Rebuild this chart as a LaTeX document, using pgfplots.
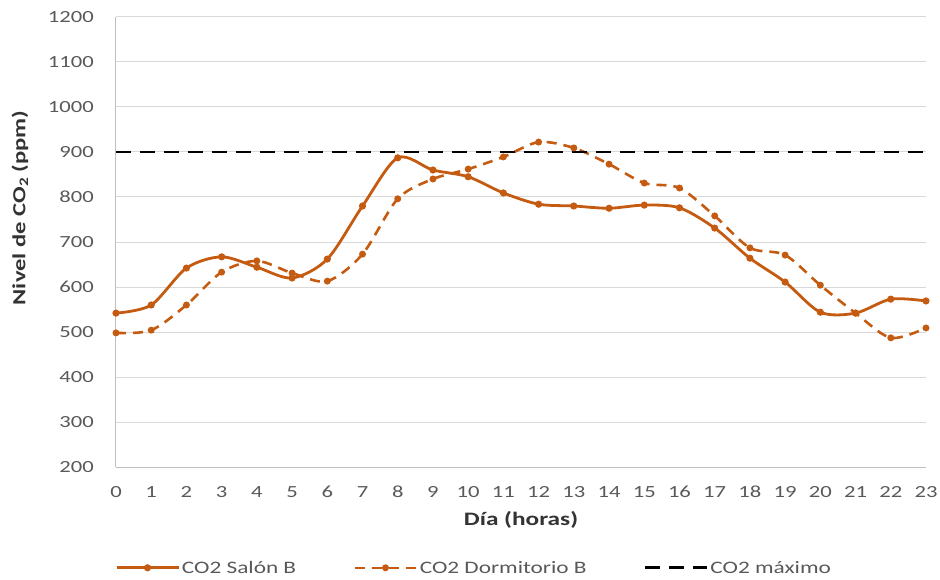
\documentclass[border=0pt]{standalone}
\usepackage{fontspec}
\setmainfont{Carlito}[FakeStretch=1.33]
\usepackage{pgfplots}
\pgfplotsset{compat=1.18}
\definecolor{orng}{HTML}{C55A11}
\definecolor{tickc}{HTML}{595959}
\definecolor{grd}{HTML}{D9D9D9}
\definecolor{axl}{HTML}{BFBFBF}
\begin{document}
\begin{tikzpicture}
\path[use as bounding box] (-116pt,-112pt) rectangle (824pt,467pt);
\begin{axis}[
  at={(0pt,0pt)}, anchor=south west,
  scale only axis, width=810pt, height=450pt,
  xmin=0, xmax=23, ymin=200, ymax=1200,
  xtick={0,1,...,23}, ytick={200,300,...,1200},
  axis lines*=left,
  axis line style={draw=axl, line width=1pt},
  ymajorgrids, grid style={draw=grd, line width=1pt},
  tick style={draw=none},
  clip=false,
  /pgf/number format/assume math mode=true,
  /pgf/number format/set thousands separator={},
  ticklabel style={font=\fontsize{17}{20}\selectfont, text=tickc},
  xticklabel style={anchor=north, inner sep=0pt, yshift=-19pt},
  yticklabel style={anchor=east, inner sep=0pt, xshift=-22pt},
  xlabel={\textbf{Día (horas)}},
  xlabel style={font=\fontsize{19}{22}\selectfont, text=black!80, at={(axis description cs:0.5,-0.118)}, anchor=center},
  ylabel={\textbf{Nivel de CO\textsubscript{2} (ppm)}},
  ylabel style={font=\fontsize{18.5}{22}\selectfont, text=black!80, at={(axis description cs:-0.1185,0.576)}, anchor=center, rotate=0},
  legend columns=3,
  legend style={draw=none, fill=none, at={(axis description cs:0.442,-0.224)}, anchor=center,
    font=\fontsize{17.5}{20}\selectfont, text=tickc,
    /tikz/every even column/.append style={column sep=55pt}},
  legend image code/.code={\draw[mark repeat=2, mark phase=2, #1] plot coordinates {(0pt,0pt) (31pt,0pt) (62pt,0pt)};},
]
\addplot[orng, line width=2.8pt, smooth, tension=0.5, mark=*, mark size=2.1pt, mark options={solid}] coordinates {
(0,542) (1,560) (2,642) (3,667) (4,644) (5,620) (6,662) (7,780) (8,887) (9,860) (10,845) (11,809)
(12,784) (13,780) (14,775) (15,782) (16,776) (17,731) (18,664) (19,611) (20,544) (21,542) (22,573) (23,569)};
\addlegendentry{CO2 Salón B}
\addplot[orng, line width=2.6pt, smooth, tension=0.5, dash pattern=on 10pt off 7pt, mark=*, mark size=2.1pt, mark options={solid}] coordinates {
(0,498) (1,504) (2,560) (3,633) (4,658) (5,631) (6,613) (7,673) (8,796) (9,840) (10,862) (11,889)
(12,922) (13,909) (14,873) (15,831) (16,820) (17,758) (18,687) (19,671) (20,604) (21,542) (22,487) (23,509)};
\addlegendentry{CO2 Dormitorio B}
\addplot[black, line width=2.8pt, dash pattern=on 15pt off 9pt] coordinates {(0,900) (23,900)};
\addlegendentry{CO2 máximo}
\end{axis}
\end{tikzpicture}
\end{document}
